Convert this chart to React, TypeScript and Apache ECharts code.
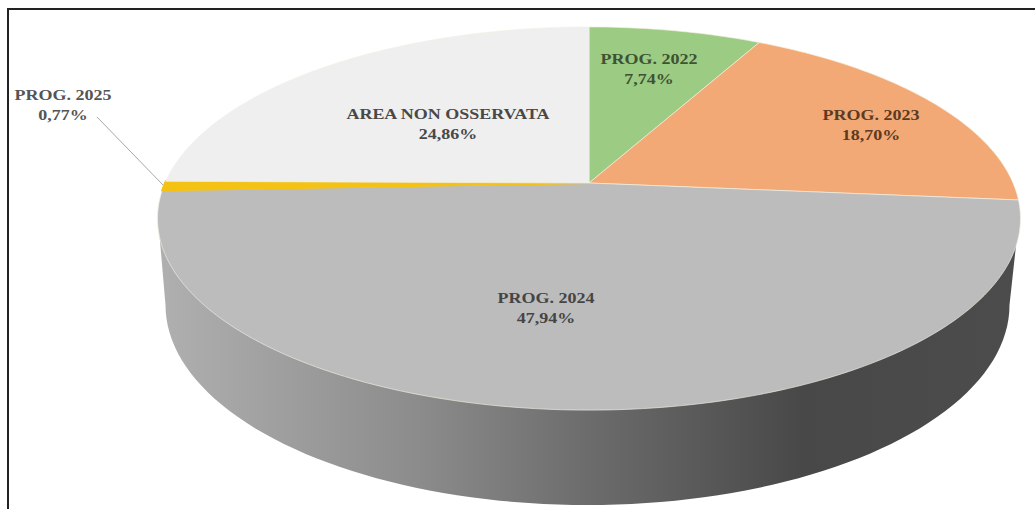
import React, { useEffect, useRef } from "react";
import * as echarts from "echarts";

const categories = ["PROG. 2022", "PROG. 2023", "PROG. 2024", "PROG. 2025", "AREA NON OSSERVATA"];
const shares = [7.74, 18.7, 47.94, 0.77, 24.86];
const shareLabels = ["7,74%", "18,70%", "47,94%", "0,77%", "24,86%"];
const sliceColors = ["#9ccb84", "#f3a975", "#bcbcbc", "#f4c214", "#efefef"];

// Perspective projection of the pie's disc onto the page.
const TIP_X = 589;
const TIP_Y = 183;
const PERSPECTIVE = 0.1854;
const SCALE_X = 424;
const SCALE_Y = 185;
const project = (deg: number): number[] => {
  const a = (deg * Math.PI) / 180;
  const u = Math.sin(a);
  const v = Math.cos(a);
  const w = 1 + PERSPECTIVE * v;
  return [TIP_X + (SCALE_X * u) / w, TIP_Y - (SCALE_Y * v) / w];
};

const total = shares.reduce((s, v) => s + v, 0);

const sliceItem = (params: any, api: any) => {
  const i = params.dataIndex;
  const value = api.value(0);
  let before = 0;
  for (let k = 0; k < i; k++) before += shares[k];
  const start = (before / total) * 360;
  const sweep = (value / total) * 360;
  const steps = Math.max(4, Math.ceil(sweep));
  const pts: number[][] = [[TIP_X, TIP_Y]];
  for (let s = 0; s <= steps; s++) pts.push(project(start + (sweep * s) / steps));
  const thinSlice = sweep < 5;
  return {
    type: "polygon",
    shape: { points: pts },
    style: {
      fill: sliceColors[i],
      stroke: thinSlice ? sliceColors[i] : "rgba(245,240,225,0.65)",
      lineWidth: thinSlice ? 2 : 1,
    },
  };
};

const wallItem = () => {
  const pts: number[][] = [];
  for (let d = 90; d <= 270; d += 2) {
    const a = (d * Math.PI) / 180;
    pts.push([587.5 + 422 * Math.sin(a), 305 - 200 * Math.cos(a)]);
  }
  const outline = [[1019, 218], ...pts, [158, 218]];
  return {
    type: "polygon",
    shape: { points: outline },
    style: {
      fill: new echarts.graphic.LinearGradient(0, 0, 1, 0, [
        { offset: 0, color: "#b0b0b0" },
        { offset: 0.3, color: "#8c8c8c" },
        { offset: 0.5, color: "#6c6c6c" },
        { offset: 0.75, color: "#484848" },
        { offset: 1, color: "#4c4c4c" },
      ]),
    },
  };
};

const LABEL_SPOTS = [
  { x: 649, y: 69, fill: "#3f5232" },
  { x: 871, y: 125, fill: "#5c3b22" },
  { x: 546, y: 308, fill: "#454545" },
  { x: 63, y: 105, fill: "#555555" },
  { x: 448, y: 124, fill: "#484848" },
];

const labelItem = (params: any) => {
  const i = params.dataIndex;
  const spot = LABEL_SPOTS[i];
  return {
    type: "text",
    x: spot.x,
    y: spot.y,
    scaleX: 1.2,
    style: {
      text: categories[i] + "\n" + shareLabels[i],
      x: 0,
      y: 0,
      align: "center",
      verticalAlign: "middle",
      lineHeight: 20,
      fontFamily: "Liberation Serif",
      fontWeight: "bold",
      fontSize: 15,
      fill: spot.fill,
    },
  };
};

export default function App() {
  const ref = useRef<HTMLDivElement>(null);
  useEffect(() => {
    const chart = echarts.init(ref.current!, undefined, { renderer: "svg" });
    chart.setOption({
      animation: false,
      backgroundColor: "#ffffff",
      graphic: [
        {
          type: "polyline",
          z: 0,
          shape: { points: [[8, 509], [8, 9], [1035, 9]] },
          style: { stroke: "#222222", lineWidth: 2, fill: "none" },
        },
        {
          type: "line",
          z: 10,
          shape: { x1: 97, y1: 117, x2: 163, y2: 185 },
          style: { stroke: "#a8a8a8", lineWidth: 1 },
        },
      ],
      series: [
        {
          type: "custom",
          coordinateSystem: "none",
          z: 1,
          silent: true,
          data: [[1]],
          renderItem: wallItem,
        },
        {
          type: "custom",
          coordinateSystem: "none",
          z: 2,
          silent: true,
          data: shares.map((v) => [v]),
          renderItem: sliceItem,
        },
        {
          type: "custom",
          coordinateSystem: "none",
          z: 3,
          silent: true,
          data: shares.map((v) => [v]),
          renderItem: labelItem,
        },
      ],
    });
    return () => chart.dispose();
  }, []);
  return (
    <div
      ref={ref}
      style={{ position: "fixed", left: 0, top: 0, width: 1035, height: 509 }}
    />
  );
}
